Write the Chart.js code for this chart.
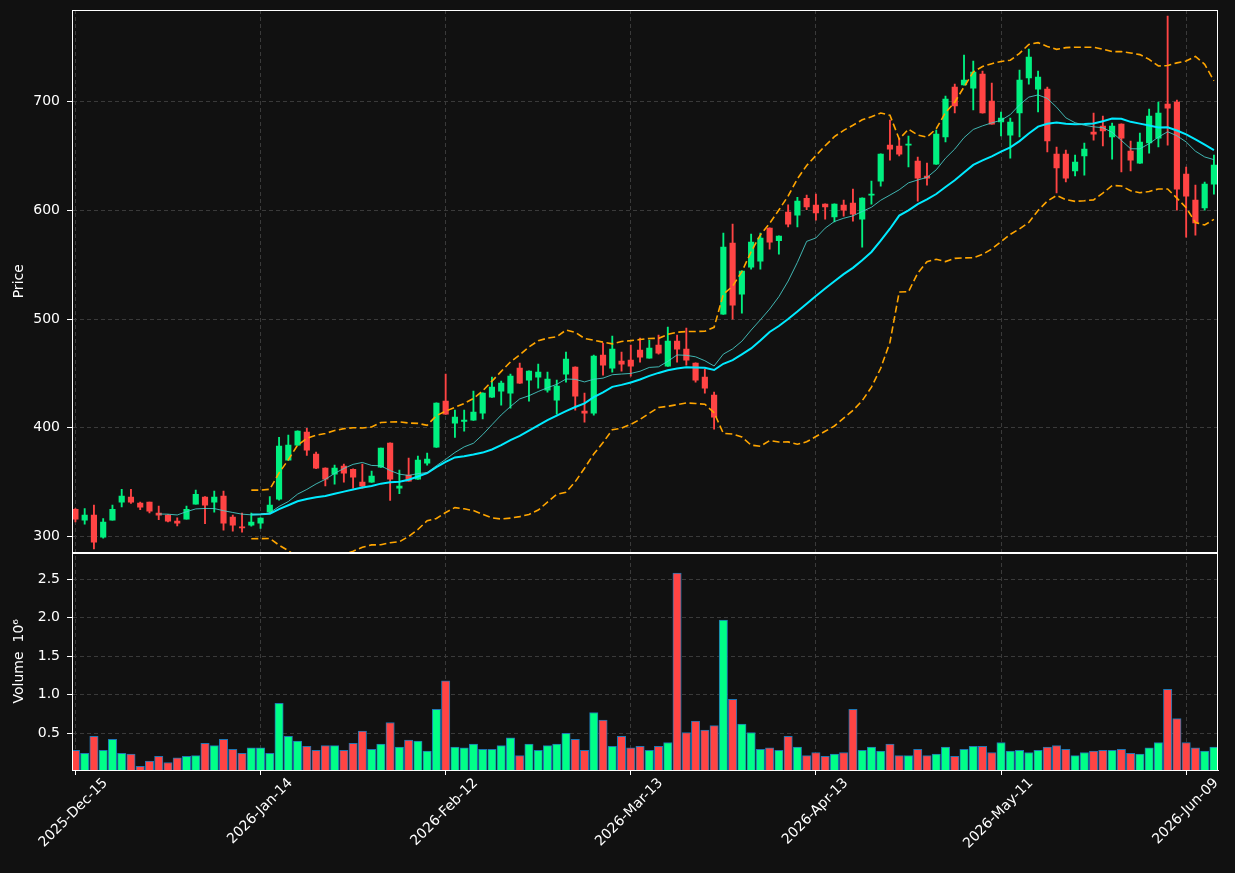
<!DOCTYPE html>
<html><head><meta charset="utf-8">
<script src="https://cdn.jsdelivr.net/npm/chart.js@4.4.1/dist/chart.umd.min.js"></script>
<style>html,body{margin:0;padding:0;background:#111111;overflow:hidden}#wrap{width:1235px;height:873px}</style>
</head><body><div id="wrap"><canvas id="c" width="1235" height="873"></canvas></div>
<script>
// ---- data ----
const startDate = '2025-12-15';
const holidays = ['2025-12-25','2026-01-01','2026-01-19','2026-02-16','2026-04-03','2026-05-25'];
const openP = [325.1,315.0,319.6,299.4,315.0,331.6,336.2,330.7,331.6,321.5,
319.6,314.1,315.9,329.7,336.2,331.6,337.1,317.8,308.6,310.4,
312.3,322.7,334.3,370.2,384.0,396.0,375.7,362.9,357.3,364.7,
361.9,350.0,350.0,363.8,385.9,344.5,356.4,352.7,367.5,382.2,
424.5,404.3,405.8,407.0,413.5,428.2,433.7,431.9,454.9,443.8,
446.6,434.6,425.4,449.3,455.8,415.3,413.5,466.8,454.9,461.3,
462.2,471.4,464.1,476.0,456.7,479.7,472.3,459.5,446.6,430.0,
504.5,569.9,522.9,547.8,553.3,583.7,572.0,598.4,595.6,611.0,
604.8,605.7,593.8,604.8,606.6,591.9,614.0,626.9,660.0,659.1,
660.0,645.3,631.5,642.5,667.4,713.4,715.2,712.4,725.3,700.5,
681.2,669.2,689.5,721.7,711.5,711.5,651.7,651.7,636.1,649.9,
672.0,677.5,667.4,679.3,654.5,643.4,661.9,666.4,697.7,699.6,
633.3,609.4,602.1,624.1];
const highP = [325.8,325.8,328.8,316.6,328.8,343.5,343.5,331.6,331.6,327.9,
320.2,317.2,327.9,342.6,336.8,341.7,341.7,319.6,321.5,321.5,
317.2,336.8,391.1,393.2,397.2,399.4,377.6,363.2,365.6,366.5,
362.2,366.5,360.1,381.3,386.1,361.0,372.1,373.9,376.7,422.9,
449.3,416.2,416.2,433.7,432.1,446.6,442.9,449.3,459.5,452.3,
458.5,451.2,443.8,469.6,456.0,431.9,466.8,477.9,484.3,469.6,
476.0,482.5,480.6,485.2,492.6,485.2,491.7,459.7,453.9,432.8,
579.0,587.3,544.3,578.1,579.0,583.9,576.5,605.0,612.0,614.0,
615.0,605.9,605.9,609.4,619.5,611.5,626.9,651.9,683.0,666.5,
668.3,649.0,643.4,673.8,705.1,716.1,742.8,737.3,728.1,717.0,
690.4,684.8,729.0,748.3,728.1,713.4,658.2,655.4,650.8,661.9,
689.5,686.7,680.2,679.5,663.7,671.1,693.1,699.6,778.7,701.4,
639.8,623.2,626.0,650.8];
const lowP = [313.5,311.3,288.7,298.5,315.0,327.3,330.4,324.8,321.8,315.6,
313.5,309.8,315.9,329.7,311.7,322.4,305.8,304.9,304.0,309.5,
307.4,321.0,333.5,370.2,383.8,374.5,362.5,346.6,348.1,350.0,
344.5,344.5,349.8,363.6,333.1,339.3,350.9,352.5,365.6,382.0,
412.3,391.1,396.9,406.8,408.2,428.0,420.8,418.1,440.9,424.5,
436.5,432.8,412.5,442.0,416.2,405.2,411.6,448.4,451.2,452.1,
447.5,460.4,463.9,467.7,456.5,460.4,457.6,442.0,431.9,398.7,
504.3,499.9,505.5,545.9,545.9,564.3,559.7,584.6,584.6,600.5,
591.0,591.9,589.2,594.7,590.0,566.2,605.7,622.3,646.2,649.9,
639.8,608.5,623.2,642.3,662.8,689.5,715.0,692.2,689.3,679.1,
668.3,648.0,667.4,716.1,690.4,653.6,615.9,626.0,631.5,632.4,
664.6,659.1,647.1,635.2,636.1,643.2,652.6,658.2,660.0,600.2,
575.4,577.2,600.2,614.9];
const closeP = [315.9,319.6,294.8,313.2,325.1,337.1,331.6,327.0,323.3,319.6,
314.1,312.3,325.1,338.9,328.8,336.2,312.3,310.4,308.0,313.2,
316.9,328.8,383.1,384.0,396.9,379.4,362.9,352.7,362.9,358.3,
354.6,346.3,355.5,381.3,352.7,346.3,350.9,370.2,371.1,422.7,
412.5,409.8,407.0,414.4,431.9,437.4,441.1,447.5,441.1,452.1,
451.2,444.7,438.3,463.1,429.1,413.5,465.9,457.6,472.3,458.5,
456.7,465.0,473.3,468.7,479.7,472.3,462.2,443.8,436.5,409.8,
566.2,512.8,544.1,570.8,574.5,570.8,576.3,587.3,608.5,603.0,
597.5,603.0,605.7,600.2,596.5,611.3,614.9,651.7,656.3,651.7,
660.9,629.6,629.6,670.1,702.3,695.9,719.8,727.2,689.5,679.3,
684.8,681.2,719.8,741.0,722.6,663.7,638.9,629.6,644.4,656.3,
670.1,672.9,677.5,666.4,646.2,662.8,686.7,689.5,694.0,619.5,
613.1,588.3,624.1,641.6];
const volumeM = [0.28,0.24,0.46,0.28,0.42,0.24,0.23,0.07,0.14,0.20,
0.12,0.18,0.20,0.21,0.37,0.34,0.42,0.29,0.24,0.31,
0.31,0.24,0.89,0.46,0.40,0.33,0.28,0.34,0.34,0.28,
0.37,0.53,0.29,0.36,0.64,0.32,0.41,0.40,0.27,0.81,
1.18,0.32,0.31,0.36,0.29,0.29,0.34,0.44,0.21,0.36,
0.28,0.34,0.36,0.50,0.42,0.28,0.77,0.67,0.33,0.46,
0.31,0.33,0.28,0.33,0.38,2.58,0.51,0.66,0.54,0.60,
1.97,0.94,0.62,0.51,0.29,0.31,0.28,0.46,0.32,0.21,
0.25,0.20,0.23,0.25,0.81,0.28,0.32,0.27,0.36,0.21,
0.21,0.29,0.21,0.23,0.32,0.20,0.29,0.33,0.33,0.25,
0.38,0.27,0.28,0.25,0.28,0.32,0.34,0.29,0.21,0.25,
0.27,0.28,0.28,0.29,0.24,0.23,0.31,0.38,1.07,0.69,
0.38,0.31,0.27,0.32];
const tickIdx = [0,20,40,60,80,100,120];
const priceTicks = [300,400,500,600,700];
const volTicks = [0.5,1.0,1.5,2.0,2.5];

// ---- helpers ----
const monthNames=['Jan','Feb','Mar','Apr','May','Jun','Jul','Aug','Sep','Oct','Nov','Dec'];
function tradingDays(start,n,hol){const out=[];const d=new Date(start+'T00:00:00Z');
  while(out.length<n){const wd=d.getUTCDay();const iso=d.toISOString().slice(0,10);
    if(wd!==0&&wd!==6&&!hol.includes(iso)) out.push(d.getUTCFullYear()+'-'+monthNames[d.getUTCMonth()]+'-'+String(d.getUTCDate()).padStart(2,'0'));
    d.setUTCDate(d.getUTCDate()+1);} return out;}
const dates = tradingDays(startDate, closeP.length, holidays);
function rollMean(a,n){return a.map((_,i)=>i<n-1?null:a.slice(i-n+1,i+1).reduce((s,v)=>s+v,0)/n);}
function rollStd(a,n){return a.map((_,i)=>{if(i<n-1)return null;const w=a.slice(i-n+1,i+1);const m=w.reduce((s,v)=>s+v,0)/n;return Math.sqrt(w.reduce((s,v)=>s+(v-m)*(v-m),0)/(n-1));});}
const ma10=rollMean(closeP,10), ma20=rollMean(closeP,20), sd20=rollStd(closeP,20);
const bbUp=ma20.map((m,i)=>m===null?null:m+2*sd20[i]);
const bbLo=ma20.map((m,i)=>m===null?null:m-2*sd20[i]);
const idx = closeP.map((_,i)=>i);
const UP='#00f080', DOWN='#ff4444', VUP='#00ff88';
const candleCol = idx.map(i=>closeP[i]>=openP[i]?UP:DOWN);
const volCol = idx.map(i=>closeP[i]>=openP[i]?VUP:DOWN);
const pts = arr => idx.filter(i=>arr[i]!==null).map(i=>({x:i,y:arr[i]}));

Chart.defaults.font.family='DejaVu Sans';
Chart.defaults.font.size=14;
Chart.defaults.color='#ffffff';

const frame={id:'frame',
  beforeDraw(c){const x=c.ctx;x.save();x.fillStyle='#111111';x.fillRect(0,0,c.width,c.height);x.restore();},
  beforeDatasetDraw(c,args){const ds=c.data.datasets[args.index];const s=c.scales[ds.yAxisID];const a=c.chartArea;
    c.ctx.save();c.ctx.beginPath();c.ctx.rect(a.left,s.top,a.right-a.left,s.bottom-s.top);c.ctx.clip();},
  afterDatasetDraw(c){c.ctx.restore();},
  afterDraw(c){const x=c.ctx,a=c.chartArea;x.save();x.strokeStyle='#ffffff';x.lineWidth=1;
    ['y','yv'].forEach(k=>{const s=c.scales[k];x.strokeRect(Math.round(a.left)+0.5,Math.round(s.top)+0.5,Math.round(a.right-a.left)-1,Math.round(s.bottom-s.top)-1);});
    x.restore();}
};
const gridOpt={color:'#3a3a3a',lineWidth:1,tickColor:'#ffffff',tickLength:5,offset:false};
const borderOpt={color:'#ffffff',dash:[4,3]};
const fitY = s=>{s.width=72;s.paddingTop=0;s.paddingBottom=0;};

new Chart(document.getElementById('c'),{
  type:'bar',
  data:{datasets:[
    {type:'line',label:'MA10',data:pts(ma10),yAxisID:'y',borderColor:'rgba(72,209,204,0.85)',borderWidth:1,pointRadius:0,tension:0,order:1},
    {type:'line',label:'MA20',data:pts(ma20),yAxisID:'y',borderColor:'#00eaff',borderWidth:2,pointRadius:0,tension:0,order:1},
    {type:'line',label:'BBU',data:pts(bbUp),yAxisID:'y',borderColor:'#ffa500',borderWidth:1.6,borderDash:[7,3.5],pointRadius:0,tension:0,order:1},
    {type:'line',label:'BBL',data:pts(bbLo),yAxisID:'y',borderColor:'#ffa500',borderWidth:1.6,borderDash:[7,3.5],pointRadius:0,tension:0,order:1},
    {label:'body',data:idx.map(i=>({x:i,y:[openP[i],closeP[i]]})),yAxisID:'y',backgroundColor:candleCol,barThickness:5.5,minBarLength:1,grouped:false,order:4},
    {label:'wick',data:idx.map(i=>({x:i,y:[lowP[i],highP[i]]})),yAxisID:'y',backgroundColor:candleCol,barThickness:1.2,grouped:false,order:5},
    {label:'vol',data:idx.map(i=>({x:i,y:volumeM[i]})),yAxisID:'yv',backgroundColor:volCol,borderColor:'#1f77b4',borderWidth:1,borderSkipped:false,barThickness:8.4,grouped:false,order:6}
  ]},
  options:{
    responsive:false,animation:false,
    layout:{padding:{top:10,right:17,left:0,bottom:0}},
    plugins:{legend:{display:false},tooltip:{enabled:false}},
    scales:{
      x:{type:'linear',position:'bottom',min:-0.37,max:123.44,bounds:'data',offset:false,
        afterBuildTicks:s=>{s.ticks=tickIdx.map(v=>({value:v}));},
        afterFit:s=>{s.height=103;},
        ticks:{color:'#ffffff',autoSkip:false,maxRotation:45,minRotation:45,labelOffset:30,padding:0,callback:v=>dates[v]},
        grid:gridOpt,border:borderOpt},
      yv:{type:'linear',position:'left',stack:'p',stackWeight:217.5,min:0.023,max:2.848,
        afterBuildTicks:s=>{s.ticks=volTicks.map(v=>({value:v}));},
        afterFit:fitY,
        ticks:{color:'#ffffff',padding:7,callback:v=>Number(v).toFixed(1)},
        grid:gridOpt,border:borderOpt,
        title:{display:true,text:'Volume  10\u2076',color:'#ffffff',font:{size:14},padding:{top:11,bottom:0}}},
      y:{type:'linear',position:'left',stack:'p',stackWeight:542.5,min:285.3,max:784.2,
        afterBuildTicks:s=>{s.ticks=priceTicks.map(v=>({value:v}));},
        afterFit:fitY,
        ticks:{color:'#ffffff',padding:7,callback:v=>String(v)},
        grid:gridOpt,border:borderOpt,
        title:{display:true,text:'Price',color:'#ffffff',font:{size:14},padding:{top:11,bottom:0}}}
    }
  },
  plugins:[frame]
});
</script></body></html>
